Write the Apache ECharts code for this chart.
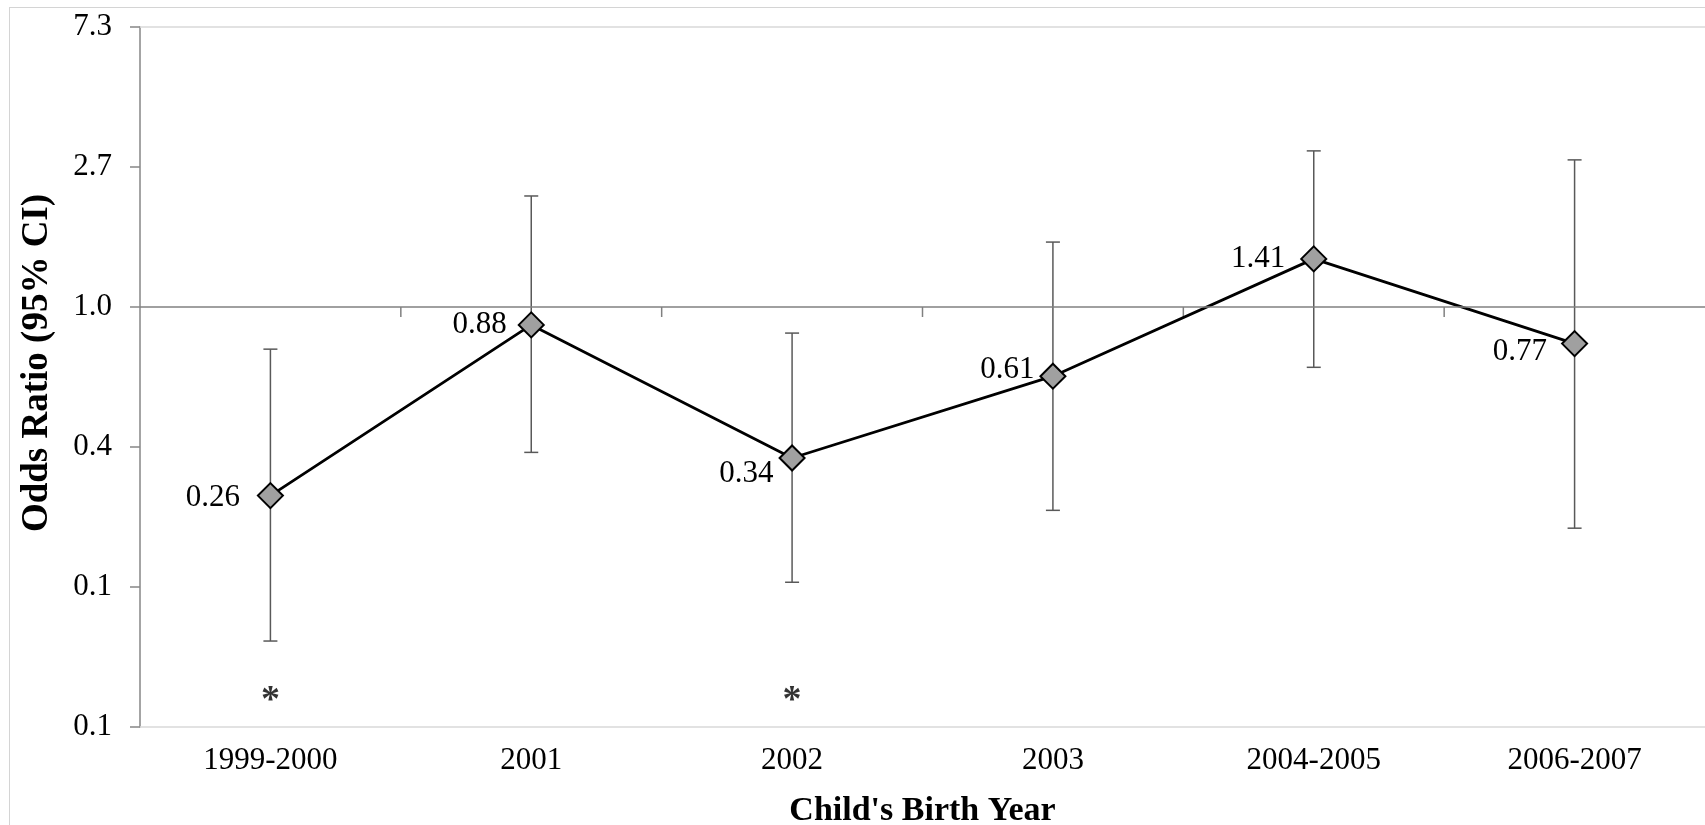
<!DOCTYPE html>
<html>
<head>
<meta charset="utf-8">
<title>Odds Ratio by Child's Birth Year</title>
<script src="https://cdn.jsdelivr.net/npm/echarts@6/dist/echarts.min.js"></script>
<style>
    body { margin: 0; background: #fff; overflow: hidden; }
    #main { position: absolute; left: 0; top: 0; width: 1705px; height: 825px; }
    #frame { position: absolute; left: 9px; top: 7px; width: 1740px; height: 860px;
             border: 1px solid #d4d4d4; pointer-events: none; }
</style>
</head>
<body>
<div id="main"></div>
<div id="frame"></div>
<script type="text/javascript">
    // values
    var categories = ['1999-2000', '2001', '2002', '2003', '2004-2005', '2006-2007'];
    var oddsRatio = [0.26, 0.88, 0.34, 0.61, 1.41, 0.77];
    var ciLower = [0.092, 0.354, 0.140, 0.234, 0.65, 0.206];
    var ciUpper = [0.74, 2.21, 0.83, 1.59, 3.05, 2.86];
    var significant = [true, false, true, false, false, false];
    var starLevel = 0.06;
    var yTickLabels = ['0.1', '0.1', '0.4', '1.0', '2.7', '7.3'];

    // label nudges (dx, dy) so the numbers sit like in the original
    var labelOffsets = [[-12, 2], [-6, 0], [0, 16], [0, -6], [-10, 0], [-9, 8]];

    var serif = "'Liberation Serif', 'Times New Roman', serif";
    var myChart = echarts.init(document.getElementById('main'));

    var errData = categories.map(function (c, i) { return [i, ciLower[i], ciUpper[i]]; });
    var pointData = oddsRatio.map(function (v, i) {
        return {
            value: v,
            label: { offset: labelOffsets[i] }
        };
    });
    var starData = significant.map(function (s, i) { return s ? [i, starLevel] : [i, null]; });
    var tickData = categories.map(function (c, i) { return [i, 1]; }).slice(1);

    var option = {
        animation: false,
        grid: { left: 140, right: 0, top: 27, bottom: 98, outerBoundsMode: 'none' },
        xAxis: [{
            type: 'category',
            data: categories,
            position: 'bottom',
            axisLine: { lineStyle: { color: '#d9d9d9', width: 1.5 } },
            axisTick: { show: false },
            axisLabel: { fontFamily: serif, fontSize: 31, color: '#000', margin: 18 },
            name: "Child's Birth Year",
            nameLocation: 'middle',
            nameGap: 67,
            nameTextStyle: { fontFamily: serif, fontSize: 34, fontWeight: 'bold', color: '#000' }
        }, {
            type: 'category',
            data: categories,
            position: 'top',
            axisLine: { lineStyle: { color: '#d9d9d9', width: 1.5 } },
            axisTick: { show: false },
            axisLabel: { show: false }
        }],
        yAxis: {
            type: 'log',
            logBase: Math.E,
            min: Math.exp(-3),
            max: Math.exp(2),
            splitNumber: 5,
            axisLine: { show: true, lineStyle: { color: '#868686', width: 1.5 } },
            axisTick: { show: true, length: 10, lineStyle: { color: '#868686', width: 1.5 } },
            splitLine: { show: false },
            axisLabel: {
                fontFamily: serif, fontSize: 31, color: '#000', margin: 28,
                formatter: function (v) {
                    return yTickLabels[Math.round(Math.log(v)) + 3];
                }
            },
            name: 'Odds Ratio (95% CI)',
            nameLocation: 'middle',
            nameGap: 84,
            nameTextStyle: {
                fontFamily: serif, fontSize: 37, fontWeight: 'bold', color: '#000',
                padding: [0, 0, 0, 28]
            }
        },
        series: [{
            // reference line at OR = 1 with category boundary ticks
            type: 'custom',
            name: 'refTicks',
            silent: true,
            z: 1,
            data: tickData,
            renderItem: function (params, api) {
                var p = api.coord([api.value(0), api.value(1)]);
                var band = api.size([1, 0])[0];
                var x = p[0] - band / 2;
                return {
                    type: 'line',
                    shape: { x1: x, y1: p[1], x2: x, y2: p[1] + 10 },
                    style: { stroke: '#808080', lineWidth: 1.5 }
                };
            },
            markLine: {
                silent: true,
                symbol: 'none',
                label: { show: false },
                lineStyle: { color: '#808080', width: 1.5, type: 'solid' },
                data: [{ yAxis: 1 }]
            }
        }, {
            type: 'custom',
            name: '95% CI',
            silent: true,
            z: 2,
            data: errData,
            encode: { x: 0, y: [1, 2] },
            renderItem: function (params, api) {
                var lo = api.coord([api.value(0), api.value(1)]);
                var hi = api.coord([api.value(0), api.value(2)]);
                var cap = 7;
                var st = { stroke: '#595959', lineWidth: 1.5 };
                return {
                    type: 'group',
                    children: [
                        { type: 'line', shape: { x1: lo[0], y1: lo[1], x2: hi[0], y2: hi[1] }, style: st },
                        { type: 'line', shape: { x1: lo[0] - cap, y1: lo[1], x2: lo[0] + cap, y2: lo[1] }, style: st },
                        { type: 'line', shape: { x1: hi[0] - cap, y1: hi[1], x2: hi[0] + cap, y2: hi[1] }, style: st }
                    ]
                };
            }
        }, {
            type: 'line',
            name: 'Odds Ratio',
            z: 3,
            data: pointData,
            symbol: 'diamond',
            symbolSize: 25,
            lineStyle: { color: '#000', width: 2.8 },
            itemStyle: { color: '#a0a0a0', borderColor: '#000', borderWidth: 2 },
            label: {
                show: true,
                position: 'left',
                distance: 5,
                fontFamily: serif,
                fontSize: 31,
                color: '#000',
                formatter: function (p) { return p.value.toFixed(2); }
            }
        }, {
            type: 'scatter',
            name: 'significant',
            symbolSize: 0,
            data: starData,
            label: {
                show: true,
                position: 'inside',
                offset: [0, 0],
                fontFamily: serif,
                fontSize: 38,
                fontWeight: 'bold',
                color: '#000',
                formatter: '*'
            }
        }]
    };

    myChart.setOption(option);
</script>
</body>
</html>
